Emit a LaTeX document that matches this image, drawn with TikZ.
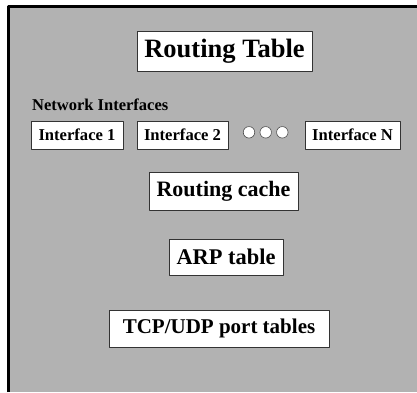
\documentclass[tikz,border=0pt]{standalone}
\usepackage{fontspec}
\setmainfont{Liberation Serif}
\definecolor{panelgray}{gray}{0.70}
\begin{document}
\begin{tikzpicture}[x=1pt, y=-1pt, line cap=round, line join=round]
            \useasboundingbox (0,0) rectangle (417,392);
            % 灰色の背景パネル
            \fill[panelgray] (8,6) rectangle (417,392);
            \draw[line width=3pt, line cap=butt] (8.5,392) -- (8.5,6.5) -- (417,6.5);
            % --- 白い箱 ---
            \tikzset{tbox/.style={draw=black!80, fill=white, line width=0.8pt, inner sep=0pt, font=\bfseries}}
            \node[tbox, minimum width=175, minimum height=40, font=\bfseries\fontsize{26.5}{28}\selectfont] (rtable) at (224.5,51) {Routing Table};
            \node[right, inner sep=0pt, font=\bfseries\fontsize{16.5}{18}\selectfont] (netif) at (32,105) {Network Interfaces};
            % インタフェース
            \node[tbox, minimum width=92, minimum height=28, font=\bfseries\fontsize{16.6}{18}\selectfont] (if1) at (77,135) {Interface 1};
            \node[tbox, minimum width=91, minimum height=28, font=\bfseries\fontsize{16.6}{18}\selectfont] (if2) at (182.5,135) {Interface 2};
            \node[tbox, minimum width=95, minimum height=28, font=\bfseries\fontsize{16.6}{18}\selectfont] (ifn) at (352.5,135) {Interface N};
            % --- “…” の丸 ---
            \foreach \cx/\nm in {249/dota, 265.7/dotb, 282.3/dotc}
                \node[circle, draw=black!70, fill=white, line width=0.6pt, minimum size=11.5, inner sep=0pt] (\nm) at (\cx,132.3) {};
            % キャッシュと表
            \node[tbox, minimum width=149, minimum height=38, font=\bfseries\fontsize{22}{24}\selectfont] (rcache) at (223.5,191.5) {Routing cache};
            \node[tbox, minimum width=114, minimum height=36, font=\bfseries\fontsize{22.4}{24}\selectfont] (arp) at (226,257) {ARP table};
            \node[tbox, minimum width=220, minimum height=37, font=\bfseries\fontsize{21}{23}\selectfont] (ports) at (219,328.5) {TCP/UDP port tables};
        \end{tikzpicture}
\end{document}
